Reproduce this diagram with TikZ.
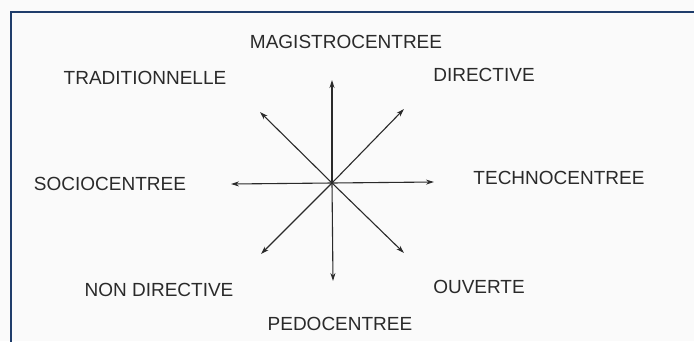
\documentclass[tikz,border=0pt]{standalone}
\usepackage{fontspec}
\setmainfont{Liberation Sans}
\usetikzlibrary{arrows.meta}
\definecolor{framecol}{HTML}{1F3D6B}
\definecolor{inkcol}{HTML}{2A2A2A}

\begin{document}
\begin{tikzpicture}[
    x=1pt, y=-1pt,
    lbl/.style={inner sep=0pt, text=inkcol, font=\fontsize{19}{22}\selectfont},
    arrow/.style={-{Stealth[length=8pt,width=5pt]}, line width=1.1pt, draw=inkcol},
    frame/.style={draw=framecol, line width=2.6pt},
]
\useasboundingbox[fill=white!98!black] (0,0) rectangle (694,341);
\draw[frame] (11,360) |- (720,12);

% axis ends
\coordinate (o) at (332,183);
\coordinate (tipN) at (332,80);
\coordinate (tipS) at (333,281);
\coordinate (tipW) at (231,184);
\coordinate (tipE) at (434,182);
\coordinate (tipNW) at (260,112);
\coordinate (tipNE) at (404,109);
\coordinate (tipSW) at (261,254);
\coordinate (tipSE) at (404,253);

\draw[arrow] (o) -- (tipN);
\draw[arrow] (o) -- (tipS);
\draw[arrow] (o) -- (tipW);
\draw[arrow] (o) -- (tipE);
\draw[arrow] (o) -- (tipNW);
\draw[arrow] (o) -- (tipNE);
\draw[arrow] (o) -- (tipSW);
\draw[arrow] (o) -- (tipSE);

% labels
\node[lbl] (magistro) at (346,42) {MAGISTROCENTREE};
\node[lbl] (tradi) at (145,78) {TRADITIONNELLE};
\node[lbl] (directive) at (484,75) {DIRECTIVE};
\node[lbl] (socio) at (110,184) {SOCIOCENTREE};
\node[lbl] (techno) at (559,178) {TECHNOCENTREE};
\node[lbl] (nondir) at (159,290) {NON DIRECTIVE};
\node[lbl] (ouverte) at (479,287) {OUVERTE};
\node[lbl] (pedo) at (340,324) {PEDOCENTREE};

\end{tikzpicture}
\end{document}
